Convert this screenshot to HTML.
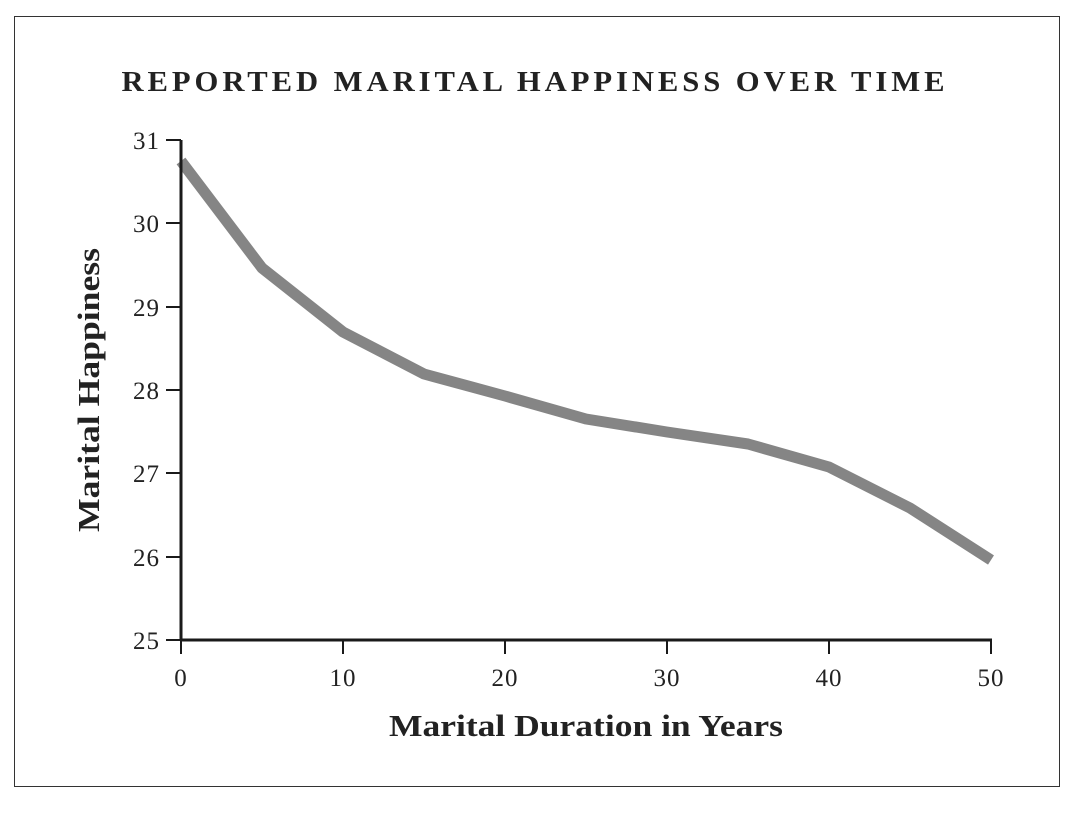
<!DOCTYPE html>
<html><head><style>body{margin:0;background:#fff}svg{display:block}</style></head>
<body>
<svg width="1091" height="815" xmlns="http://www.w3.org/2000/svg" font-family="'Liberation Serif', serif">
<rect x="14.5" y="16.5" width="1045" height="770" fill="none" stroke="#333" stroke-width="1"/>
<text x="535" y="91" text-anchor="middle" font-size="28" font-weight="bold" letter-spacing="3.6" fill="#222" textLength="827" lengthAdjust="spacingAndGlyphs">REPORTED MARITAL HAPPINESS OVER TIME</text>
<polyline fill="none" stroke="#858585" stroke-width="11" stroke-linejoin="round" points="181,161 262,268 343,332 424,374 505,396 586,419 667,432 748,444 829,467 910,508 991,560"/>
<g stroke="#1a1a1a" stroke-width="3" fill="none">
<line x1="181" y1="140" x2="181" y2="641"/>
<line x1="180" y1="640" x2="992" y2="640"/>
</g>
<g stroke="#1a1a1a" stroke-width="2">
<line x1="166" y1="140" x2="181" y2="140"/>
<line x1="166" y1="223" x2="181" y2="223"/>
<line x1="166" y1="307" x2="181" y2="307"/>
<line x1="166" y1="390" x2="181" y2="390"/>
<line x1="166" y1="473" x2="181" y2="473"/>
<line x1="166" y1="557" x2="181" y2="557"/>
<line x1="166" y1="640" x2="181" y2="640"/>
<line x1="181" y1="640" x2="181" y2="654"/>
<line x1="343" y1="640" x2="343" y2="654"/>
<line x1="505" y1="640" x2="505" y2="654"/>
<line x1="667" y1="640" x2="667" y2="654"/>
<line x1="829" y1="640" x2="829" y2="654"/>
<line x1="991" y1="640" x2="991" y2="654"/>
</g>
<g font-size="25" fill="#222" text-anchor="end" letter-spacing="1">
<text x="160" y="149">31</text>
<text x="160" y="232">30</text>
<text x="160" y="316">29</text>
<text x="160" y="399">28</text>
<text x="160" y="482">27</text>
<text x="160" y="566">26</text>
<text x="160" y="649">25</text>
</g>
<g font-size="25" fill="#222" text-anchor="middle" letter-spacing="1">
<text x="181" y="686">0</text>
<text x="343" y="686">10</text>
<text x="505" y="686">20</text>
<text x="667" y="686">30</text>
<text x="829" y="686">40</text>
<text x="991" y="686">50</text>
</g>
<text x="586" y="736" text-anchor="middle" font-size="31" font-weight="bold" fill="#222" textLength="394" lengthAdjust="spacingAndGlyphs">Marital Duration in Years</text>
<text transform="translate(99,390) rotate(-90)" text-anchor="middle" font-size="31" font-weight="bold" fill="#222" textLength="284" lengthAdjust="spacingAndGlyphs">Marital Happiness</text>
</svg>
</body></html>
